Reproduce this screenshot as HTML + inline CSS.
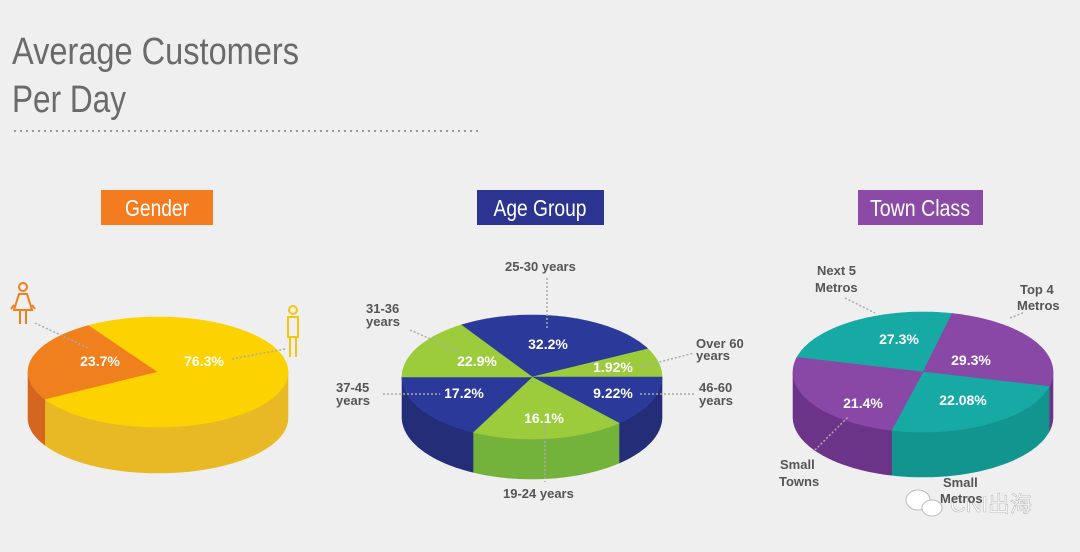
<!DOCTYPE html>
<html><head><meta charset="utf-8"><style>
body{margin:0;background:#efefef;}
svg{display:block}
.t{font-family:"Liberation Sans",sans-serif;fill:#6a6a6a;font-size:38px}
.h{font-family:"Liberation Sans",sans-serif;fill:#fff;font-size:23px;text-anchor:middle}
.l{font-family:"Liberation Sans",sans-serif;font-weight:bold;fill:#555;font-size:13px}
.p{font-family:"Liberation Sans",sans-serif;font-weight:bold;fill:#fff;font-size:14px;text-anchor:middle}
.dl{stroke:#aaa;stroke-width:1.5;stroke-dasharray:2 2;fill:none}
</style></head><body>
<svg id="s" width="1080" height="552" viewBox="0 0 1080 552" xmlns="http://www.w3.org/2000/svg">
<rect width="1080" height="552" fill="#efefef"/>
<text class="t" x="12" y="64" textLength="287" lengthAdjust="spacingAndGlyphs">Average Customers</text>
<text class="t" x="12" y="112" textLength="114" lengthAdjust="spacingAndGlyphs">Per Day</text>
<line x1="14" y1="131" x2="478" y2="131" stroke="#999" stroke-width="2" stroke-dasharray="2 4"/>
<rect x="101" y="190" width="112" height="35" fill="#f47c20"/><text class="h" x="157" y="216" textLength="64" lengthAdjust="spacingAndGlyphs">Gender</text>
<rect x="477" y="190" width="127" height="35" fill="#2b3591"/><text class="h" x="540" y="216" textLength="93" lengthAdjust="spacingAndGlyphs">Age Group</text>
<rect x="858" y="190" width="125" height="35" fill="#8a4aa6"/><text class="h" x="920" y="216" textLength="100" lengthAdjust="spacingAndGlyphs">Town Class</text>
<g id="pies"></g>
<g fill="none" stroke="#f07f1e" stroke-width="2">
<circle cx="23" cy="287" r="4"/><path d="M19 294h8l5 16h-18z M20 310v14 M26 310v14 M14 305l-3 4 M32 305l3 4"/>
</g>
<g fill="none" stroke="#f2c80f" stroke-width="2">
<circle cx="293" cy="310" r="4"/><path d="M288 317h10v20h-10z M290 337v20 M296 337v20"/>
</g>
<g id="lbl">
<line class="dl" x1="35" y1="323" x2="88" y2="348"/>
<line class="dl" x1="232" y1="359" x2="285" y2="349"/>
<text class="l" x="505" y="271">25-30 years</text>
<line class="dl" x1="547" y1="278" x2="547" y2="330"/>
<text class="l" x="366" y="313">31-36</text><text class="l" x="366" y="326">years</text>
<line class="dl" x1="410" y1="330" x2="460" y2="352"/>
<text class="l" x="696" y="348">Over 60</text><text class="l" x="696" y="360">years</text>
<line class="dl" x1="640" y1="367" x2="694" y2="353"/>
<text class="l" x="336" y="392">37-45</text><text class="l" x="336" y="405">years</text>
<line class="dl" x1="383" y1="394" x2="440" y2="394"/>
<text class="l" x="699" y="392">46-60</text><text class="l" x="699" y="405">years</text>
<line class="dl" x1="640" y1="394" x2="695" y2="394"/>
<text class="l" x="503" y="498">19-24 years</text>
<line class="dl" x1="545" y1="425" x2="545" y2="482"/>
<text class="l" x="817" y="275">Next 5</text><text class="l" x="815" y="292">Metros</text>
<line class="dl" x1="845" y1="298" x2="875" y2="313"/>
<text class="l" x="1020" y="294">Top 4</text><text class="l" x="1017" y="310">Metros</text>
<line class="dl" x1="1010" y1="318" x2="1025" y2="312"/>
<text class="l" x="780" y="469">Small</text><text class="l" x="779" y="486">Towns</text>
<line class="dl" x1="815" y1="450" x2="848" y2="417"/>
<text class="l" x="943" y="487">Small</text><text class="l" x="940" y="503">Metros</text>
</g>
<text x="950" y="512" font-family="'Liberation Sans','Noto Sans CJK SC',sans-serif" font-size="22" fill="#fff" stroke="#bbb" stroke-width="0.6">CNI出海</text>
<ellipse cx="918" cy="500" rx="12" ry="10" fill="#fff" stroke="#bbb"/><ellipse cx="932" cy="508" rx="10" ry="8" fill="#fff" stroke="#bbb"/>
</svg>
<script>
var NS="http://www.w3.org/2000/svg",g=document.getElementById("pies");
function pt(cx,cy,rx,ry,a){a=a*Math.PI/180;return [cx+rx*Math.cos(a),cy+ry*Math.sin(a)];}
function poly(pts,fill){var p=document.createElementNS(NS,"polygon");p.setAttribute("points",pts.map(function(q){return q[0].toFixed(1)+","+q[1].toFixed(1)}).join(" "));p.setAttribute("fill",fill);p.setAttribute("stroke",fill);p.setAttribute("stroke-width","0.6");g.appendChild(p);}
function txt(x,y,s,c){var t=document.createElementNS(NS,"text");t.setAttribute("class","p");t.setAttribute("x",x);t.setAttribute("y",y);if(c)t.setAttribute("fill",c);t.textContent=s;g.appendChild(t);}
function pie(cx,cy,rx,ry,d,sl){
 sl.forEach(function(s){
  for(var k=-360;k<=360;k+=360){var a0=Math.max(s[0]+k,0),a1=Math.min(s[1]+k,180);
   if(a1>a0){var pts=[],a;for(a=a0;a<=a1;a+=1)pts.push(pt(cx,cy,rx,ry,a));pts.push(pt(cx,cy,rx,ry,a1));
    for(a=a1;a>=a0;a-=1){var q=pt(cx,cy,rx,ry,a);pts.push([q[0],q[1]+d]);}var q0=pt(cx,cy,rx,ry,a0);pts.push([q0[0],q0[1]+d]);poly(pts,s[3]);}}
 });
 sl.forEach(function(s){var pts=[[cx,cy]];for(var a=s[0];a<s[1];a+=1)pts.push(pt(cx,cy,rx,ry,a));pts.push(pt(cx,cy,rx,ry,s[1]));poly(pts,s[2]);});
}
pie(158,372,130,55,46,[[150,238,"#f07f1e","#d4661f"],[238,510,"#fcd200","#e9b925"]]);
pie(532,377,130,62,40,[[237,333,"#2b3a9a","#232d78"],[333,360,"#9ccc3c","#73b23b"],[0,48,"#2b3a9a","#232d78"],[48,117,"#9ccc3c","#73b23b"],[117,180,"#2b3a9a","#232d78"],[180,237,"#9ccc3c","#73b23b"]]);
pie(923,372,130,60,45,[[194,283,"#17aaa5","#12958f"],[283,374,"#8a48a6","#6c3488"],[14,104,"#17aaa5","#12958f"],[104,194,"#8a48a6","#6c3488"]]);
txt(100,366,"23.7%");txt(204,366,"76.3%","#6b6b6b");
txt(548,349,"32.2%");txt(477,366,"22.9%");txt(613,372,"1.92%");txt(464,398,"17.2%");txt(613,398,"9.22%");txt(544,423,"16.1%");
txt(899,344,"27.3%");txt(971,365,"29.3%");txt(863,408,"21.4%");txt(963,405,"22.08%");
document.getElementById("s").appendChild(document.getElementById("lbl"));
</script>
</body></html>
